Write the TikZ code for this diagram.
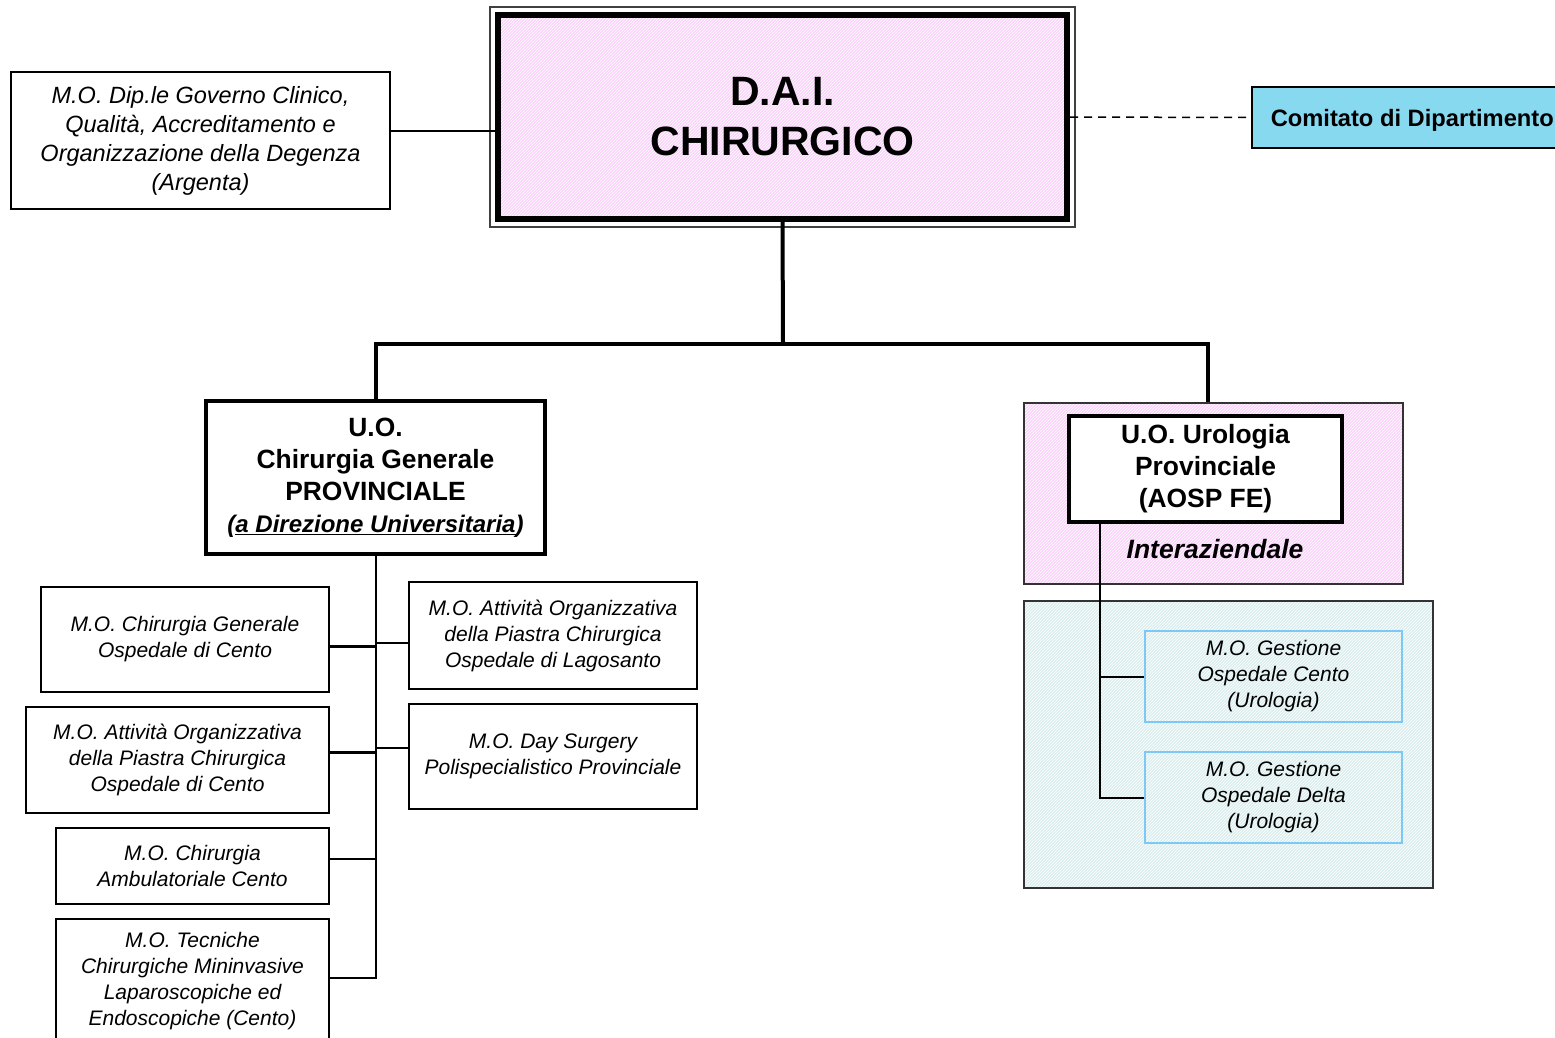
\documentclass[tikz,border=0pt]{standalone}
\usepackage{fontspec}
\setmainfont{Liberation Sans}
\usetikzlibrary{patterns}
\definecolor{daipink}{RGB}{250,212,250}
\definecolor{uroteal}{RGB}{218,238,238}
\definecolor{comblue}{RGB}{135,217,240}
\definecolor{moblue}{RGB}{125,200,245}
\tikzstyle{every node}=[align=center, inner sep=0pt, execute at begin node={\rule{0pt}{0.95em}}]
\tikzstyle{hatch}=[preaction={pattern=north east lines, pattern color=white}]
\tikzstyle{mobox}=[draw=black, line width=2pt, fill=white, font=\fontsize{21}{26}\selectfont\itshape]
\tikzstyle{gestbox}=[draw=moblue, line width=2pt, font=\fontsize{21}{26}\selectfont\itshape, minimum width=257pt, minimum height=91pt]
\tikzstyle{uobox}=[draw=black, line width=4pt, fill=white, font=\fontsize{26.4}{32}\selectfont\bfseries]
\tikzstyle{panel}=[draw=black!80, line width=1.5pt]
\tikzstyle{tree}=[line width=4pt]
\tikzstyle{spine}=[line width=2pt]

\begin{document}
\begin{tikzpicture}[x=1pt, y=-1pt]
	\useasboundingbox (0,0) rectangle (1555,1037);
	\clip (0,0) rectangle (1555,1037);
	% background panels
	\node[panel, preaction={fill=daipink}, hatch, minimum width=379pt, minimum height=181pt] (interaz) at (1213.5,493.5) {};
	\node[panel, preaction={fill=uroteal}, hatch, minimum width=409pt, minimum height=287pt] (teal) at (1228.5,744.5) {};
	\node[font=\fontsize{26.5}{32}\selectfont\bfseries\itshape] (interlabel) at (1215,546) {Interaziendale};

	% top level
	\node[draw=black, line width=6pt, preaction={fill=daipink}, hatch, minimum width=569pt, minimum height=204pt,
		font=\fontsize{41}{50}\selectfont\bfseries] (dai) at (782.5,117) {D.A.I.\\CHIRURGICO};
	\draw[line width=1.2pt, black!75] ([shift={(-5pt,-5pt)}]dai.south west) rectangle ([shift={(5pt,5pt)}]dai.north east);
	\node[mobox, minimum width=379pt, minimum height=137pt, font=\fontsize{23.5}{29}\selectfont\itshape] (gov) at (200.5,140.5)
		{M.O. Dip.le Governo Clinico,\\Qualità, Accreditamento e\\Organizzazione della Degenza\\(Argenta)};
	\node[draw=black, line width=1.5pt, fill=comblue, anchor=west, inner xsep=19pt, minimum height=61pt,
		font=\fontsize{23.7}{28}\selectfont\bfseries] (com) at (1251,117.5) {Comitato di Dipartimento};

	% units
	\node[uobox, minimum width=339pt, minimum height=153pt] (uoc) at (375.5,477.5)
		{U.O.\\Chirurgia Generale\\PROVINCIALE\\{\fontsize{24}{31}\selectfont\itshape(\underline{a Direzione Universitaria})}};
	\node[uobox, minimum width=273pt, minimum height=106pt] (uro) at (1205.5,469)
		{U.O. Urologia\\Provinciale\\(AOSP FE)};

	% left modules
	\node[mobox, minimum width=288pt, minimum height=105pt] (l1) at (185,639.5) {M.O. Chirurgia Generale\\Ospedale di Cento};
	\node[mobox, minimum width=303pt, minimum height=106pt] (l2) at (177.5,760) {M.O. Attività Organizzativa\\della Piastra Chirurgica\\Ospedale di Cento};
	\node[mobox, minimum width=273pt, minimum height=76pt] (l3) at (192.5,866) {M.O. Chirurgia\\Ambulatoriale Cento};
	\node[mobox, minimum width=273pt, minimum height=124pt] (l4) at (192.5,981) {M.O. Tecniche\\Chirurgiche Mininvasive\\Laparoscopiche ed\\Endoscopiche (Cento)};
	\node[mobox, minimum width=288pt, minimum height=107pt] (r1) at (553,635.5) {M.O. Attività Organizzativa\\della Piastra Chirurgica\\Ospedale di Lagosanto};
	\node[mobox, minimum width=288pt, minimum height=105pt] (r2) at (553,756.5) {M.O. Day Surgery\\Polispecialistico Provinciale};

	% urology modules
	\node[gestbox] (g1) at (1273.5,676.5) {M.O. Gestione\\Ospedale Cento\\(Urologia)};
	\node[gestbox] (g2) at (1273.5,797.5) {M.O. Gestione\\Ospedale Delta\\(Urologia)};

	% connectors
	\coordinate (bus) at (783,344);
	\draw[tree] (dai.south) -- (bus);
	\draw[tree] (uoc.north) |- (bus) -| ([xshift=-6pt]interaz.north);
	\draw[spine] ([yshift=9.5pt]gov.east) coordinate (c) -- (c -| dai.west);
	\draw[line width=1.5pt, dash pattern=on 8pt off 6pt] (dai.east) -- (com.west);
	\draw[spine] (uoc.south) |- ([yshift=3pt]l4.east);
	\foreach \n/\s/\w in {l1/-6.5/3, l2/8/3, l3/7/2} {
		\draw[line width=\w pt] ([yshift=\s pt]\n.east) coordinate (c) -- (c -| uoc.south);
	}
	\foreach \n/\s in {r1/-7.5, r2/8.5} {
		\draw[spine] ([yshift=\s pt]\n.west) coordinate (c) -- (c -| uoc.south);
	}
	\coordinate (uspine) at ([xshift=33pt]uro.south west);
	\draw[spine] (uspine) |- (g2.west);
	\draw[spine] (g1.west) -- (g1.west -| uspine);
\end{tikzpicture}
\end{document}
